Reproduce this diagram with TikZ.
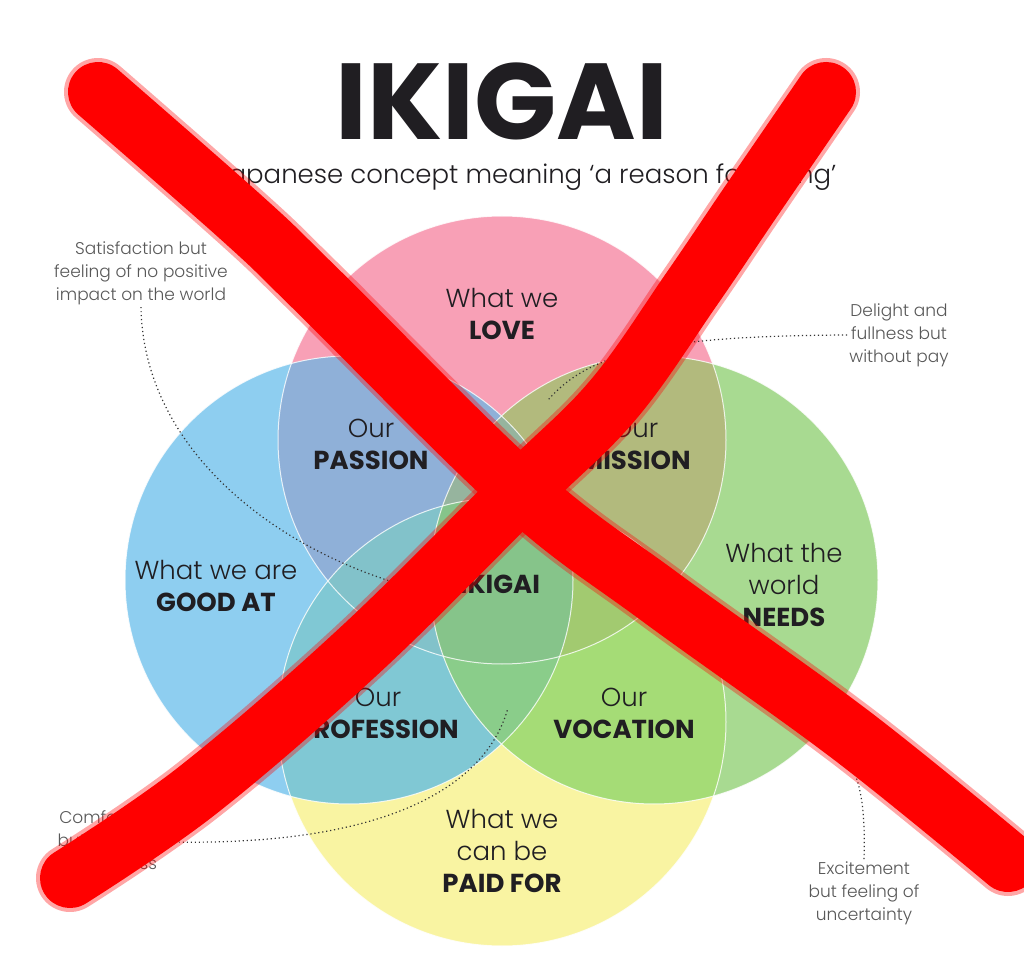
\documentclass[tikz,border=0pt]{standalone}
\usepackage{fontspec}
\setmainfont{Poppins}
\newfontfamily\lightfont{Poppins Light}
\usetikzlibrary{positioning}

\definecolor{lovepink}{RGB}{248,160,182}
\definecolor{goodblue}{RGB}{142,206,240}
\definecolor{needgreen}{RGB}{168,218,145}
\definecolor{paidyellow}{RGB}{249,244,162}
\definecolor{passionc}{RGB}{143,176,216}
\definecolor{missionc}{RGB}{178,186,125}
\definecolor{professionc}{RGB}{128,200,212}
\definecolor{vocationc}{RGB}{165,220,118}
\definecolor{triL}{RGB}{130,194,202}
\definecolor{triR}{RGB}{162,202,112}
\definecolor{triT}{RGB}{150,180,158}
\definecolor{triB}{RGB}{138,205,138}
\definecolor{centerc}{RGB}{134,196,138}
\definecolor{labelink}{RGB}{32,30,34}
\definecolor{notegray}{RGB}{88,88,88}
\definecolor{xred}{RGB}{255,0,0}

\newcommand{\bw}[1]{{\normalfont\bfseries #1}}
\def\rad{112pt}

\begin{document}
\begin{tikzpicture}[
    x=0.5pt, y=-0.5pt,
    petal/.style={
      font=\lightfont\fontsize{13}{16}\selectfont,
      text=labelink,
      align=center,
      inner sep=1pt,
    },
    note/.style={
      font=\lightfont\fontsize{8.5}{11.5}\selectfont,
      text=notegray,
      align=center,
      inner sep=1pt,
    },
    noteline/.style={
      draw=black!80,
      line width=0.6pt,
      dash pattern=on 0.6pt off 1.4pt,
    },
    xstroke/.style={
      draw=xred,
      line width=30pt,
      line cap=round,
      line join=round,
    },
  ]

  % --- canvas ---
  \fill[white] (0,0) rectangle (1024,968);
  \useasboundingbox (0,0) rectangle (1024,968);

  % --- circle centres ---
  \coordinate (cL) at (502,440);
  \coordinate (cG) at (349,580);
  \coordinate (cN) at (654,580);
  \coordinate (cP) at (502,722);

  % --- the four circles ---
  \fill[lovepink]   (cL) circle[radius=\rad];
  \fill[goodblue]   (cG) circle[radius=\rad];
  \fill[needgreen]  (cN) circle[radius=\rad];
  \fill[paidyellow] (cP) circle[radius=\rad];

  % --- pairwise overlaps ---
  \begin{scope}
    \clip (cL) circle[radius=\rad];
    \fill[passionc] (cG) circle[radius=\rad];
    \fill[missionc] (cN) circle[radius=\rad];
  \end{scope}
  \begin{scope}
    \clip (cP) circle[radius=\rad];
    \fill[professionc] (cG) circle[radius=\rad];
    \fill[vocationc] (cN) circle[radius=\rad];
  \end{scope}

  % --- three-way overlaps ---
  \begin{scope}
    \clip (cL) circle[radius=\rad];
    \clip (cP) circle[radius=\rad];
    \fill[triL] (cG) circle[radius=\rad];
    \fill[triR] (cN) circle[radius=\rad];
  \end{scope}
  \begin{scope}
    \clip (cG) circle[radius=\rad];
    \clip (cN) circle[radius=\rad];
    \fill[triT] (cL) circle[radius=\rad];
    \fill[triB] (cP) circle[radius=\rad];
  \end{scope}

  % --- centre ---
  \begin{scope}
    \clip (cL) circle[radius=\rad];
    \clip (cP) circle[radius=\rad];
    \clip (cG) circle[radius=\rad];
    \fill[centerc] (cN) circle[radius=\rad];
  \end{scope}

  % --- thin white rims ---
  \foreach \c in {cL,cG,cN,cP}
    \draw[white, line width=0.5pt, opacity=0.8] (\c) circle[radius=\rad];

  % --- title ---
  \node[font=\bfseries\fontsize{54}{54}\selectfont, text=labelink, inner sep=0pt,
        text height=38pt, text depth=0pt, anchor=base] (title) at (502,140) {IKIGAI};
  \node[font=\lightfont\fontsize{13}{16}\selectfont, text=labelink, inner sep=1pt] (sub) at (526,177)
    {Japanese concept meaning ‘a reason for being’};

  % --- circle labels ---
  \node[petal] (love) at (502,314) {What we\\\bw{LOVE}};
  \node[petal] (good) at (216,586) {What we are\\\bw{GOOD AT}};
  \node[petal] (needs) at (784,585) {What the\\world\\\bw{NEEDS}};
  \node[petal] (paid) at (502,851) {What we\\can be\\\bw{PAID FOR}};

  % --- overlap labels ---
  \node[petal] (passion) at (371,444) {Our\\\bw{PASSION}};
  \node[petal] (mission) at (635,444) {Our\\\bw{MISSION}};
  \node[petal] (profession) at (378,713) {Our\\\bw{PROFESSION}};
  \node[petal] (vocation) at (624,713) {Our\\\bw{VOCATION}};
  \node[petal] (ikigai) at (500,584) {\bw{IKIGAI}};

  % --- side notes ---
  \node[note] (sat) at (141,273) {Satisfaction but\\feeling of no positive\\impact on the world};
  \node[note] (del) at (899,335) {Delight and\\fullness but\\without pay};
  \node[note] (comf) at (113,842) {Comfortable\\but feeling of\\emptiness};
  \node[note] (exc) at (864,893) {Excitement\\but feeling of\\uncertainty};

  % --- note targets ---
  \coordinate (tSat) at (393,582);
  \coordinate (tDel) at (548,400);
  \coordinate (tComf) at (508,708);
  \coordinate (tExc) at (842,752);

  % --- dotted leaders ---
  \draw[noteline] (sat.south) .. controls (143,440) and (260,540) .. (tSat);
  \draw[noteline] (del.west) .. controls (660,336) and (590,352) .. (tDel);
  \draw[noteline] (comf.east) .. controls (380,846) and (485,790) .. (tComf);
  \draw[noteline] (exc.north) .. controls (866,800) and (858,770) .. (tExc);

  % --- red cross over everything ---
  \draw[xstroke, opacity=0.35, line width=34pt]
    plot[smooth, tension=0.6] coordinates {(98,92) (244,220) (317,290) (520,490) (660,597) (851,735) (1008,862)};
  \draw[xstroke]
    plot[smooth, tension=0.6] coordinates {(98,92) (244,220) (317,290) (520,490) (660,597) (851,735) (1008,862)};
  \draw[xstroke, opacity=0.35, line width=34pt]
    plot[smooth, tension=0.6] coordinates {(826,92) (752,200) (691,290) (613,400) (520,492) (360,650) (198,790) (70,878)};
  \draw[xstroke]
    plot[smooth, tension=0.6] coordinates {(826,92) (752,200) (691,290) (613,400) (520,492) (360,650) (198,790) (70,878)};

\end{tikzpicture}
\end{document}
